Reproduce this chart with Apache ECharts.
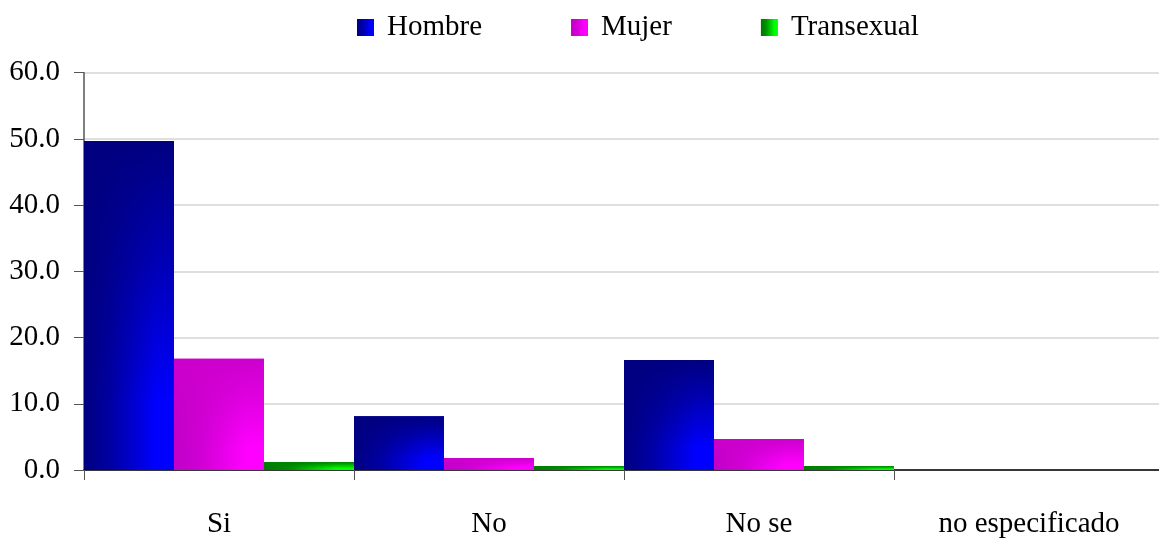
<!DOCTYPE html>
<html>
<head>
<meta charset="utf-8">
<script src="https://cdn.jsdelivr.net/npm/echarts@6/dist/echarts.min.js"></script>
<style>
  html, body { margin: 0; padding: 0; background: #fff; }
  #chart { width: 1159px; height: 539px; }
</style>
</head>
<body>
<div id="chart"></div>
<script>
const categories = ['Si', 'No', 'No se', 'no especificado']
const hombre = [49.7, 8.1, 16.6, 0]
const mujer = [16.8, 1.8, 4.7, 0]
const transexual = [1.2, 0.6, 0.6, 0]
const yTicks = [0, 10, 20, 30, 40, 50, 60]

const FONT = '"Liberation Serif", "Times New Roman", serif'

// base fill: dark on the left, bright toward the right
function sideShade(dark, mid, bright) {
  return new echarts.graphic.LinearGradient(0, 0, 1, 0, [
    { offset: 0, color: dark },
    { offset: 0.3, color: mid },
    { offset: 0.8, color: bright },
    { offset: 1, color: bright },
  ])
}

// overlay: dark at the top fading out toward the bottom
function topShade(r, g, b) {
  return new echarts.graphic.LinearGradient(0, 0, 0, 1, [
    { offset: 0, color: `rgba(${r},${g},${b},1)` },
    { offset: 0.35, color: `rgba(${r},${g},${b},0.6)` },
    { offset: 0.8, color: `rgba(${r},${g},${b},0)` },
  ])
}

const barCommon = { type: 'bar', barGap: '0%', barCategoryGap: '0%' }

const chart = echarts.init(document.getElementById('chart'), null, { renderer: 'canvas' })

chart.setOption({
  animation: false,
  backgroundColor: '#fff',
  textStyle: { fontFamily: FONT },
  legend: {
    top: 8,
    left: 352,
    itemWidth: 17,
    itemHeight: 17,
    itemGap: 89,
    icon: 'rect',
    textStyle: { fontFamily: FONT, fontSize: 29, color: '#000', padding: [0, 0, 0, 8] },
    data: ['Hombre', 'Mujer', 'Transexual'],
  },
  grid: {
    left: 84,
    right: -5,
    top: 72.7,
    bottom: 69,
    outerBoundsMode: 'none',
  },
  xAxis: [
    {
      type: 'category',
      data: categories,
      boundaryGap: true,
      axisLine: { lineStyle: { color: '#000', width: 1.5 } },
      axisTick: { show: true, length: 10, lineStyle: { color: '#555' } },
      axisLabel: { color: '#000', fontFamily: FONT, fontSize: 29, margin: 40 },
    },
    {
      type: 'category',
      data: categories,
      position: 'bottom',
      show: false,
    },
  ],
  yAxis: {
    type: 'value',
    min: yTicks[0],
    max: yTicks[yTicks.length - 1],
    interval: 10,
    axisLine: { show: true, lineStyle: { color: '#555', width: 1.5 } },
    axisTick: { show: true, length: 10, lineStyle: { color: '#555' } },
    axisLabel: {
      color: '#000',
      fontFamily: FONT,
      fontSize: 29,
      margin: 24,
      formatter: (v) => v.toFixed(1),
    },
    splitLine: { lineStyle: { color: '#d4d4d4', width: 1.5 } },
  },
  series: [
    {
      ...barCommon,
      name: 'Hombre',
      data: hombre,
      itemStyle: { color: sideShade('#000080', '#0000a4', '#0000ff') },
    },
    {
      ...barCommon,
      name: 'Mujer',
      data: mujer,
      itemStyle: { color: sideShade('#c000c8', '#d000d4', '#ff00ff') },
    },
    {
      ...barCommon,
      name: 'Transexual',
      data: transexual,
      itemStyle: { color: sideShade('#007800', '#009000', '#00ff00') },
    },
    // top-down darkening drawn over the same bars
    {
      ...barCommon,
      name: 'Hombre-top',
      xAxisIndex: 1,
      data: hombre,
      silent: true,
      itemStyle: { color: topShade(0, 0, 128) },
    },
    {
      ...barCommon,
      name: 'Mujer-top',
      xAxisIndex: 1,
      data: mujer,
      silent: true,
      itemStyle: { color: topShade(204, 0, 204) },
    },
    {
      ...barCommon,
      name: 'Transexual-top',
      xAxisIndex: 1,
      data: transexual,
      silent: true,
      itemStyle: { color: topShade(0, 128, 0) },
    },
  ],
})
</script>
</body>
</html>
